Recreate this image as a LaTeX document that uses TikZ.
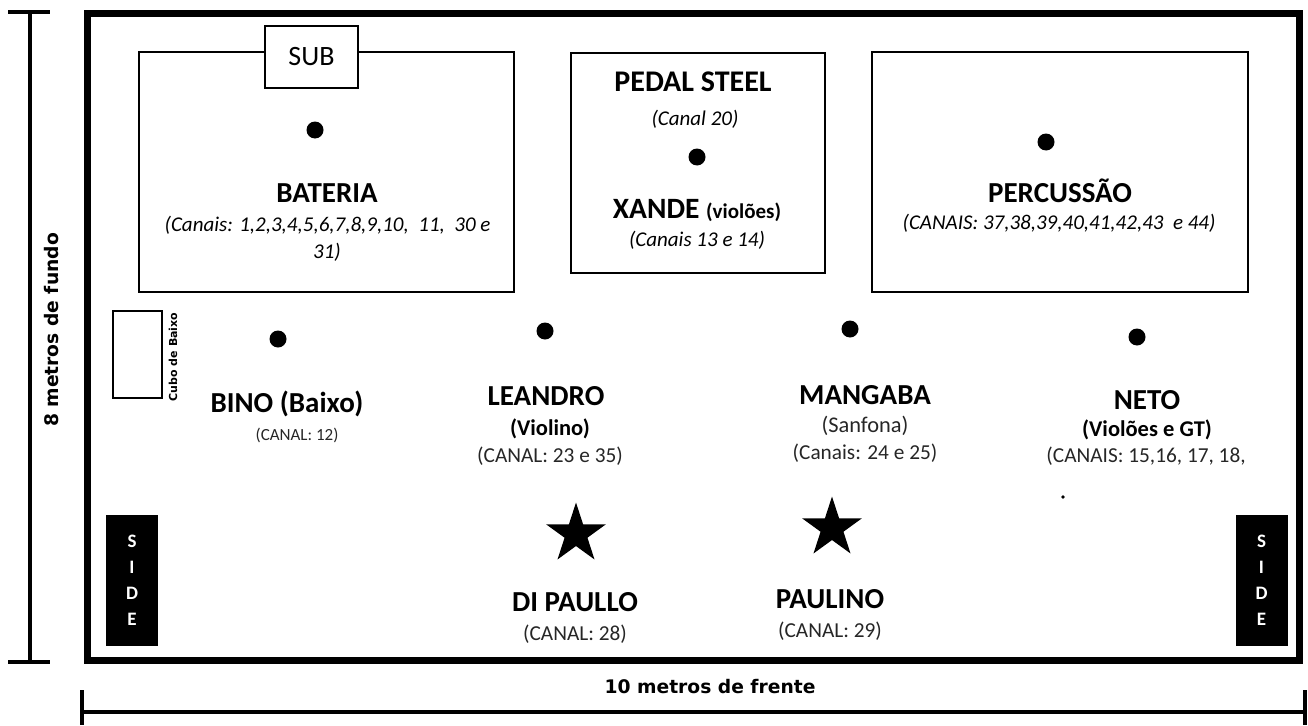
\documentclass[tikz,border=0pt]{standalone}
\usepackage{fontspec}
\setmainfont{Carlito}
\newfontfamily\cotafont{DejaVu Sans}
\usetikzlibrary{shapes.geometric}

\tikzset{
  palco/.style={line width=7pt},
  cota/.style={line width=4.5pt},
  area/.style={draw, line width=2.5pt},
  musico/.style={circle, fill=black, inner sep=0pt, minimum size=17pt},
  estrela/.style={star, star points=5, star point ratio=2.618, fill=black, inner sep=0pt, minimum size=63pt},
  nome/.style={font=\fontsize{29}{32}\selectfont\bfseries, anchor=base},
  canais/.style={font=\fontsize{21}{24}\selectfont\itshape, anchor=base},
  instr/.style={font=\fontsize{22.5}{25}\selectfont\bfseries, anchor=base},
  info/.style={font=\fontsize{21.3}{24}\selectfont, text=black!85, anchor=base},
  sidebox/.style={fill=black, text=white, inner sep=0pt, minimum width=52pt, minimum height=131pt,
    align=center, font=\fontsize{19}{26}\selectfont\bfseries},
  medida/.style={font=\cotafont\fontsize{18.7}{22}\selectfont\bfseries},
}

\begin{document}
\begin{tikzpicture}[x=1pt,y=-1pt]
	\useasboundingbox (0,0) rectangle (1308,725);
	% medidas
	\draw[cota] (30,12) -- (30,662) (8,12) -- (50,12) (8,662) -- (50,662);
	\node[medida, rotate=90] (fundo) at (52,330) {8 metros de fundo};
	\draw[cota] (82,712) -- (1305,712) (82,690) -- (82,725) (1305,690) -- (1305,725);
	\node[medida] (frente) at (710,687) {10 metros de frente};
	% palco
	\draw[palco] (87.5,13.5) rectangle (1299,660);
	% bateria
	\draw[area] (139,52) rectangle (514,292);
	\node[area, fill=white, minimum width=93pt, minimum height=62pt, font=\fontsize{28}{30}\selectfont] (sub) at (311.5,57) {SUB};
	\node[musico] (bat) at (315,130) {};
	\node[nome] (bateria) at (327,202) {BATERIA};
	\node[canais] (batcanais) at (327.5,231) {(Canais: 1,2,3,4,5,6,7,8,9,10,\ \ 11,\ \ 30 e};
	\node[canais] (batcanais2) at (327,258) {31)};
	% pedal steel / xande
	\draw[area] (571,53) rectangle (825,273);
	\node[nome, font=\fontsize{30}{32}\selectfont\bfseries] (pedal) at (693,91) {PEDAL STEEL};
	\node[canais] (pedalcanal) at (695,125) {(Canal 20)};
	\node[musico] (xande) at (697,157) {};
	\node[nome, font=\fontsize{29.5}{32}\selectfont\bfseries] (xandenome) at (697,218) {XANDE {\fontsize{21}{24}\selectfont(violões)}};
	\node[canais] (xandecanais) at (697,246) {(Canais 13 e 14)};
	% percussao
	\draw[area] (872,52) rectangle (1248,292);
	\node[musico] (perc) at (1046,142) {};
	\node[nome] (percnome) at (1060,202) {PERCUSSÃO};
	\node[canais] (perccanais) at (1059,229) {(CANAIS: 37,38,39,40,41,42,43\ \ e 44)};
	% cubo de baixo
	\draw[area] (113,311) rectangle (162,398);
	\node[rotate=90, font=\cotafont\fontsize{11}{13}\selectfont\bfseries, inner sep=0pt] (cubo) at (173,357) {Cubo de Baixo};
	% musicos
	\node[musico] (bino) at (278,339) {};
	\node[nome] (binonome) at (287,412) {BINO (Baixo)};
	\node[info, font=\fontsize{17}{20}\selectfont] (binocanal) at (297,440) {(CANAL: 12)};
	\node[musico] (leandro) at (545,331) {};
	\node[nome] (leandronome) at (546,405) {LEANDRO};
	\node[instr] (leandroinstr) at (550,435) {(Violino)};
	\node[info] (leandrocanal) at (550,462) {(CANAL: 23 e 35)};
	\node[musico] (mangaba) at (850,329) {};
	\node[nome] (mangabanome) at (865,404) {MANGABA};
	\node[info, font=\fontsize{22.4}{25}\selectfont] (mangabainstr) at (865,432) {(Sanfona)};
	\node[info] (mangabacanal) at (865,459) {(Canais: 24 e 25)};
	\node[musico] (neto) at (1137,337) {};
	\node[nome] (netonome) at (1147,409) {NETO};
	\node[instr] (netoinstr) at (1147,436) {(Violões e GT)};
	\node[info] (netocanal) at (1146,462) {(CANAIS: 15,16, 17, 18,};
	\fill (1063,497) circle (1.8);
	% vocais
	\node[estrela] (dipaullo) at (576,534) {};
	\node[nome] (dipaullonome) at (575,611) {DI PAULLO};
	\node[info] (dipaullocanal) at (575,640) {(CANAL: 28)};
	\node[estrela] (paulino) at (832,528) {};
	\node[nome] (paulinonome) at (830,608) {PAULINO};
	\node[info] (paulinocanal) at (830,637) {(CANAL: 29)};
	% sides
	\node[sidebox] (sideesq) at (132,580.5) {S\\I\\D\\E};
	\node[sidebox] (sidedir) at (1261.5,580.5) {S\\I\\D\\E};
\end{tikzpicture}
\end{document}
